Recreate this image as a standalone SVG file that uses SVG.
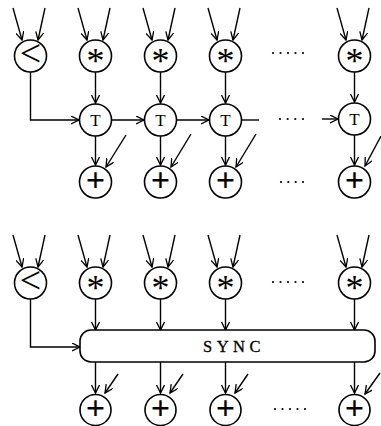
<svg xmlns="http://www.w3.org/2000/svg" width="381" height="426" viewBox="0 0 381 426">
  <defs>
    <marker id="arr" markerWidth="10" markerHeight="10" refX="8" refY="4" orient="auto" markerUnits="userSpaceOnUse">
      <path d="M0,0 L8,4 L0,8" fill="none" stroke="#000" stroke-width="1.3"/>
    </marker>
  </defs>
  <style>
    .node circle { fill: #fff; stroke: #000; stroke-width: 1.6; }
    .edge { fill: none; stroke: #000; stroke-width: 1.4; marker-end: url(#arr); }
    .line { fill: none; stroke: #000; stroke-width: 1.4; }
    .op { font-family: "Liberation Serif", serif; text-anchor: middle; fill: #000; }
    .lt { font-size: 38px; }
    .star { font-size: 36px; }
    .tee { font-size: 17px; }
    .plus { font-size: 34px; font-weight: bold; }
    .dot { fill: #000; }
    .sync { font-family: "Liberation Serif", serif; font-size: 16.5px; letter-spacing: 4.5px; fill: #000; stroke: #000; stroke-width: 0.3; }
    .box { fill: #fff; stroke: #000; stroke-width: 1.6; }
  </style>

  <!-- connectors -->
  <g id="connectors">
    <!-- upper network: operand inputs -->
    <path class="edge" d="M13,8 L22,40"/><path class="edge" d="M45,8 L38,40"/>
    <path class="edge" d="M78,8 L87,40"/><path class="edge" d="M110,8 L103,40"/>
    <path class="edge" d="M143,8 L152,40"/><path class="edge" d="M175,8 L168,40"/>
    <path class="edge" d="M208,8 L217,40"/><path class="edge" d="M240,8 L233,40"/>
    <path class="edge" d="M337,8 L346,40"/><path class="edge" d="M369,8 L362,40"/>
    <!-- comparison result into the T chain -->
    <path class="edge" d="M30.5,72 L30.5,120 L79,120"/>
    <!-- products into T nodes -->
    <path class="edge" d="M95.5,72 L95.5,103"/>
    <path class="edge" d="M160.5,72 L160.5,103"/>
    <path class="edge" d="M225.5,72 L225.5,103"/>
    <path class="edge" d="M354.5,72 L354.5,102"/>
    <!-- T chain -->
    <path class="edge" d="M111.5,120 L144,120"/>
    <path class="edge" d="M176.5,120 L209,120"/>
    <path class="line" d="M241.5,120 L259,120"/>
    <path class="edge" d="M322,119 L338,119"/>
    <!-- T into adders -->
    <path class="edge" d="M95.5,136 L95.5,165"/>
    <path class="edge" d="M160.5,136 L160.5,165"/>
    <path class="edge" d="M225.5,136 L225.5,165"/>
    <path class="edge" d="M354.5,135 L354.5,165"/>
    <!-- second adder operands -->
    <path class="edge" d="M126,135 L106,167"/>
    <path class="edge" d="M191,134 L171,167"/>
    <path class="edge" d="M256,134 L236,167"/>
    <path class="edge" d="M381,136 L365,166"/>

    <!-- lower network: operand inputs -->
    <path class="edge" d="M13,235 L22,267"/><path class="edge" d="M45,235 L38,267"/>
    <path class="edge" d="M78,235 L87,267"/><path class="edge" d="M110,235 L103,267"/>
    <path class="edge" d="M143,235 L152,267"/><path class="edge" d="M175,235 L168,267"/>
    <path class="edge" d="M208,235 L217,267"/><path class="edge" d="M240,235 L233,267"/>
    <path class="edge" d="M337,235 L346,267"/><path class="edge" d="M369,235 L362,267"/>
    <!-- into SYNC -->
    <path class="edge" d="M30.5,299 L30.5,347 L80,347"/>
    <path class="edge" d="M95.5,299 L95.5,330"/>
    <path class="edge" d="M160.5,299 L160.5,330"/>
    <path class="edge" d="M225.5,299 L225.5,330"/>
    <path class="edge" d="M354.5,299 L354.5,330"/>
    <!-- SYNC into adders -->
    <path class="edge" d="M95.5,362 L95.5,393"/>
    <path class="edge" d="M160.5,362 L160.5,393"/>
    <path class="edge" d="M225.5,362 L225.5,393"/>
    <path class="edge" d="M354.5,362 L354.5,393"/>
    <path class="edge" d="M118,374 L105,393"/>
    <path class="edge" d="M183,374 L170,393"/>
    <path class="edge" d="M248,374 L235,393"/>
    <path class="edge" d="M380,373 L365,394"/>
  </g>

  <!-- upper network nodes -->
  <g id="cmp1" class="node"><circle cx="30.5" cy="56" r="16"/><text class="op lt" x="30.5" y="66">&lt;</text></g>
  <g id="mul1a" class="node"><circle cx="95.5" cy="56" r="16"/><text class="op star" x="95.5" y="73">*</text></g>
  <g id="mul1b" class="node"><circle cx="160.5" cy="56" r="16"/><text class="op star" x="160.5" y="73">*</text></g>
  <g id="mul1c" class="node"><circle cx="225.5" cy="56" r="16"/><text class="op star" x="225.5" y="73">*</text></g>
  <g id="mul1n" class="node"><circle cx="354.5" cy="56" r="16"/><text class="op star" x="354.5" y="73">*</text></g>

  <g id="t1a" class="node"><circle cx="95.5" cy="120" r="16"/><text class="op tee" x="95.5" y="126">T</text></g>
  <g id="t1b" class="node"><circle cx="160.5" cy="120" r="16"/><text class="op tee" x="160.5" y="126">T</text></g>
  <g id="t1c" class="node"><circle cx="225.5" cy="120" r="16"/><text class="op tee" x="225.5" y="126">T</text></g>
  <g id="t1n" class="node"><circle cx="354.5" cy="119" r="16"/><text class="op tee" x="354.5" y="125">T</text></g>

  <g id="add1a" class="node"><circle cx="95.5" cy="182" r="16"/><text class="op plus" x="95.5" y="190.5">+</text></g>
  <g id="add1b" class="node"><circle cx="160.5" cy="182" r="16"/><text class="op plus" x="160.5" y="190.5">+</text></g>
  <g id="add1c" class="node"><circle cx="225.5" cy="182" r="16"/><text class="op plus" x="225.5" y="190.5">+</text></g>
  <g id="add1n" class="node"><circle cx="354.5" cy="182" r="16"/><text class="op plus" x="354.5" y="190.5">+</text></g>

  <!-- ellipsis dots, upper network -->
  <g id="gap1">
    <circle class="dot" cx="273" cy="53" r="1.1"/><circle class="dot" cx="280.5" cy="53" r="1.1"/><circle class="dot" cx="288" cy="53" r="1.1"/><circle class="dot" cx="295.5" cy="53" r="1.1"/><circle class="dot" cx="303" cy="53" r="1.1"/>
    <circle class="dot" cx="280" cy="119" r="1.1"/><circle class="dot" cx="287.7" cy="119" r="1.1"/><circle class="dot" cx="295.3" cy="119" r="1.1"/><circle class="dot" cx="303" cy="119" r="1.1"/>
    <circle class="dot" cx="281" cy="182" r="1.1"/><circle class="dot" cx="288.3" cy="182" r="1.1"/><circle class="dot" cx="295.7" cy="182" r="1.1"/><circle class="dot" cx="303" cy="182" r="1.1"/>
  </g>

  <!-- lower network nodes -->
  <g id="cmp2" class="node"><circle cx="30.5" cy="283" r="16"/><text class="op lt" x="30.5" y="293">&lt;</text></g>
  <g id="mul2a" class="node"><circle cx="95.5" cy="283" r="16"/><text class="op star" x="95.5" y="300">*</text></g>
  <g id="mul2b" class="node"><circle cx="160.5" cy="283" r="16"/><text class="op star" x="160.5" y="300">*</text></g>
  <g id="mul2c" class="node"><circle cx="225.5" cy="283" r="16"/><text class="op star" x="225.5" y="300">*</text></g>
  <g id="mul2n" class="node"><circle cx="354.5" cy="283" r="16"/><text class="op star" x="354.5" y="300">*</text></g>

  <g id="sync" class="node">
    <rect class="box" x="80" y="330" width="295" height="32" rx="11" ry="11"/>
    <text class="sync" x="203" y="351.5">SYNC</text>
  </g>

  <g id="add2a" class="node"><circle cx="95.5" cy="410" r="15.5"/><text class="op plus" x="95.5" y="418.5">+</text></g>
  <g id="add2b" class="node"><circle cx="160.5" cy="410" r="15.5"/><text class="op plus" x="160.5" y="418.5">+</text></g>
  <g id="add2c" class="node"><circle cx="225.5" cy="410" r="15.5"/><text class="op plus" x="225.5" y="418.5">+</text></g>
  <g id="add2n" class="node"><circle cx="354.5" cy="410" r="15.5"/><text class="op plus" x="354.5" y="418.5">+</text></g>

  <!-- ellipsis dots, lower network -->
  <g id="gap2">
    <circle class="dot" cx="273" cy="282" r="1.1"/><circle class="dot" cx="280.5" cy="282" r="1.1"/><circle class="dot" cx="288" cy="282" r="1.1"/><circle class="dot" cx="295.5" cy="282" r="1.1"/><circle class="dot" cx="303" cy="282" r="1.1"/>
    <circle class="dot" cx="275" cy="409" r="1.1"/><circle class="dot" cx="282.5" cy="409" r="1.1"/><circle class="dot" cx="290" cy="409" r="1.1"/><circle class="dot" cx="297.5" cy="409" r="1.1"/><circle class="dot" cx="305" cy="409" r="1.1"/>
  </g>
</svg>
